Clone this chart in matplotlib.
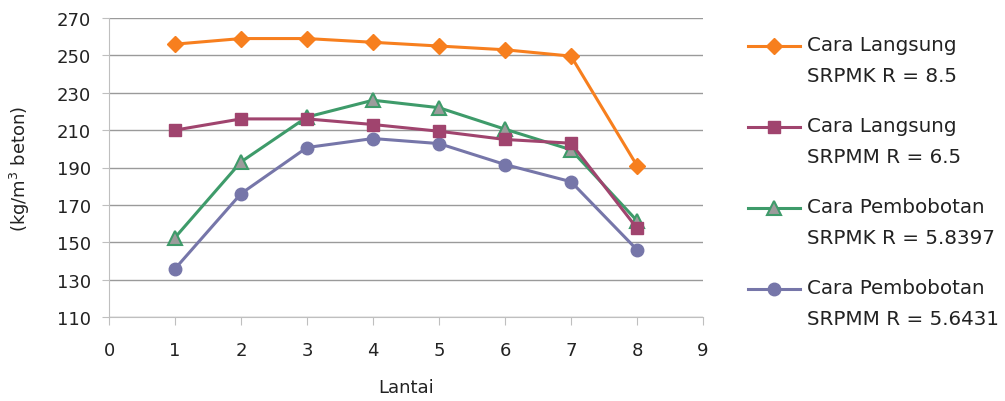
import matplotlib
matplotlib.use("Agg")
import matplotlib.pyplot as plt
from matplotlib.lines import Line2D

lantai = [1, 2, 3, 4, 5, 6, 7, 8]
langsung_srpmk = [256, 259, 259, 257, 255, 253, 249.6, 191]
langsung_srpmm = [210, 216, 216, 213, 209.4, 205, 203, 157.5]
pembobotan_srpmk = [152.5, 193, 217, 226, 222, 210.5, 199.5, 161.5]
pembobotan_srpmm = [135.8, 176, 200.7, 205.5, 202.8, 191.6, 182.4, 146]
labels = ["Cara Langsung\nSRPMK R = 8.5", "Cara Langsung\nSRPMM R = 6.5",
          "Cara Pembobotan\nSRPMK R = 5.8397", "Cara Pembobotan\nSRPMM R = 5.6431"]
yticks = [110, 130, 150, 170, 190, 210, 230, 250, 270]
xticks = list(range(0, 10))

plt.rcParams['font.family'] = ['DejaVu Sans']

W, H = 1005, 402
fig = plt.figure(figsize=(W/100, H/100), dpi=100)
ax = fig.add_axes([109/W, 1-318/H, (703-109)/W, (318-19)/H])

c1, c2, c3, c4 = "#F77F1E", "#A0446E", "#3E9B6A", "#7676A9"
styles = [
    dict(color=c1, lw=2.2, marker="D", ms=8, mfc=c1, mec=c1, zorder=5),
    dict(color=c2, lw=2.2, marker="s", ms=9, mfc=c2, mec=c2, zorder=4),
    dict(color=c3, lw=2.2, marker="^", ms=10, mfc="#9C9C9C", mec=c3, mew=1.5, zorder=3),
    dict(color=c4, lw=2.2, marker="o", ms=9, mfc=c4, mec=c4, zorder=2),
]
series = [langsung_srpmk, langsung_srpmm, pembobotan_srpmk, pembobotan_srpmm]
for vals, st, lab in zip(series, styles, labels):
    ax.plot(lantai, vals, label=lab, **st)

ax.set_xlim(0, 9)
ax.set_ylim(110, 270)
ax.set_xticks(xticks)
ax.set_yticks(yticks)
ax.grid(axis="y", color="#9A9A9A", lw=1)
ax.set_axisbelow(True)
for s in ["top", "right"]:
    ax.spines[s].set_visible(False)
for s in ["left", "bottom"]:
    ax.spines[s].set_color("#BFBFBF")
ax.tick_params(axis="both", colors="#BFBFBF", labelcolor="#222222", labelsize=13, length=6, direction="out")
ax.tick_params(axis="y", pad=8, length=5)
ax.tick_params(axis="x", pad=11)
ax.set_xlabel("Lantai", fontsize=13, color="#222222", labelpad=14)
ax.set_ylabel("(kg/m$^3$ beton)", fontsize=13, color="#222222", labelpad=18)

# manual legend (handle aligned with first line of each label)
for i, (st, lab) in enumerate(zip(styles, labels)):
    yc = 1 - (47 + 81*i)/H
    line_kw = {k: v for k, v in st.items() if k in ("color", "lw")}
    fig.add_artist(Line2D([748/W, 800/W], [yc, yc], transform=fig.transFigure, **line_kw))
    mk = {k: v for k, v in st.items() if k in ("marker", "ms", "mfc", "mec", "mew")}
    fig.add_artist(Line2D([774/W], [yc], transform=fig.transFigure, ls="none", **mk))
    fig.text(807/W, 1 - (47 + 81*i - 11)/H, lab, fontsize=14.3, color="#222222",
             va="top", ha="left", linespacing=1.8)

fig.savefig("out.png", dpi=100)
